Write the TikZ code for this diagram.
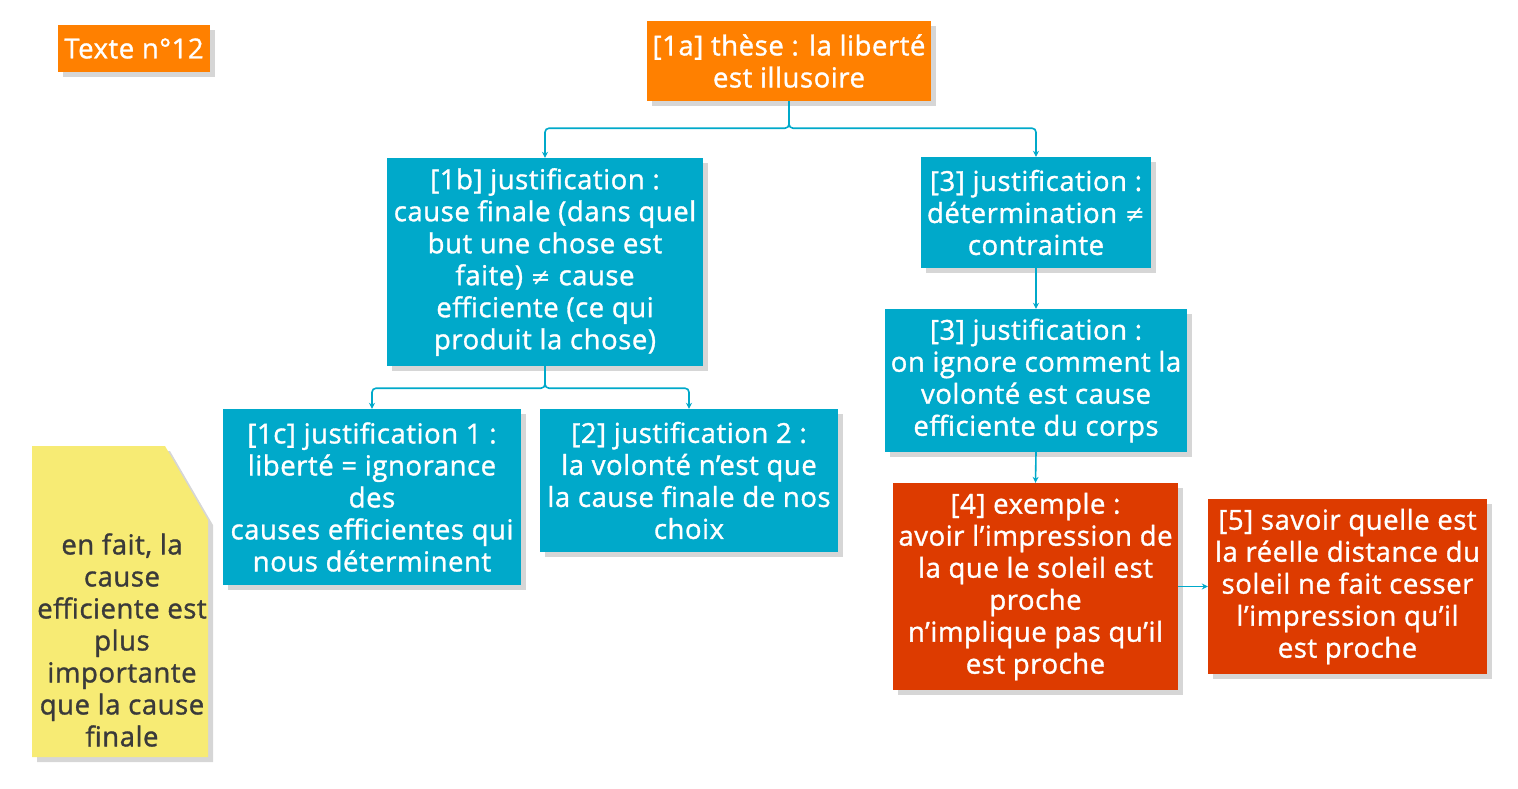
\documentclass[tikz,border=0pt]{standalone}
\usepackage{fontspec}
\setmainfont{Open Sans}[FakeBold=1.2, LetterSpace=2]
\newfontfamily\symf{DejaVu Sans}
\usetikzlibrary{shadows,arrows.meta}
\definecolor{orng}{HTML}{FF8000}
\definecolor{blu}{HTML}{00A9CA}
\definecolor{rd}{HTML}{DD3B00}
\definecolor{yel}{HTML}{F7EB74}
\definecolor{ntxt}{HTML}{3A3A3A}
\definecolor{shd}{HTML}{D6D6D6}
\newcommand{\neqsym}{{\symf\fontsize{24}{32}\selectfont ≠}}
\tikzset{
  box/.style={rectangle, inner sep=0pt, align=center, text=white,
    font=\fontsize{27.5}{32}\selectfont,
    drop shadow={shadow xshift=5pt, shadow yshift=-5pt, fill=shd, opacity=1}},
  obox/.style={box, fill=orng},
  bbox/.style={box, fill=blu},
  rbox/.style={box, fill=rd},
  conn/.style={draw=blu, line width=1.6pt, rounded corners=4pt,
    -{Stealth[length=6pt,width=6pt]}},
}
\begin{document}
\begin{tikzpicture}[x=1pt,y=-1pt]
\useasboundingbox (0,0) rectangle (1518,788);
\node[obox, minimum width=152pt, minimum height=47pt] (tn) at (134,48.5) {Texte n°12};
\node[obox, minimum width=284pt, minimum height=80pt] (a1) at (789,61) {[1a] thèse : la liberté\\est illusoire};
\node[bbox, minimum width=316pt, minimum height=208pt] (b1) at (545,262) {[1b] justification :\\cause finale (dans quel\\but une chose est\\faite) \neqsym{} cause\\efficiente (ce qui\\produit la chose)};
\node[bbox, minimum width=230pt, minimum height=111pt] (j3) at (1036,212.5) {[3] justification :\\détermination \neqsym\\contrainte};
\node[bbox, minimum width=302pt, minimum height=143pt] (k3) at (1036,380.5) {[3] justification :\\on ignore comment la\\volonté est cause\\efficiente du corps};
\node[bbox, minimum width=298pt, minimum height=176pt] (c1) at (372,497) {[1c] justification 1 :\\liberté = ignorance\\des\\causes efficientes qui\\nous déterminent};
\node[bbox, minimum width=298pt, minimum height=143pt] (j2) at (689,480.5) {[2] justification 2 :\\la volonté n’est que\\la cause finale de nos\\choix};
\node[rbox, minimum width=285pt, minimum height=207pt] (e4) at (1035.5,586.5) {[4] exemple :\\avoir l’impression de\\la que le soleil est\\proche\\n’implique pas qu’il\\est proche};
\node[rbox, minimum width=279pt, minimum height=175pt] (s5) at (1347.5,586.5) {[5] savoir quelle est\\la réelle distance du\\soleil ne fait cesser\\l’impression qu’il\\est proche};
% note
\fill[shd] (37,451) -- (170,451) -- (213,525) -- (213,762) -- (37,762) -- cycle;
\fill[yel] (32,446) -- (165,446) -- (208,520) -- (208,757) -- (32,757) -- cycle;
\node[align=center, text=ntxt, inner sep=0pt, font=\fontsize{27.5}{32}\selectfont] (note) at (122,640) {en fait, la\\cause\\efficiente est\\plus\\importante\\que la cause\\finale};
% connectors
\draw[conn] (a1.south) -- ++(0,27) -| (b1.north);
\draw[conn] (a1.south) -- ++(0,27) -| (j3.north);
\draw[conn] (b1.south) -- ++(0,22) -| (c1.north);
\draw[conn] (b1.south) -- ++(0,22) -| (j2.north);
\draw[conn] (j3.south) -- (k3.north);
\draw[conn] (k3.south) -- (e4.north);
\draw[conn] (e4.east) -- (s5.west);
\end{tikzpicture}
\end{document}
